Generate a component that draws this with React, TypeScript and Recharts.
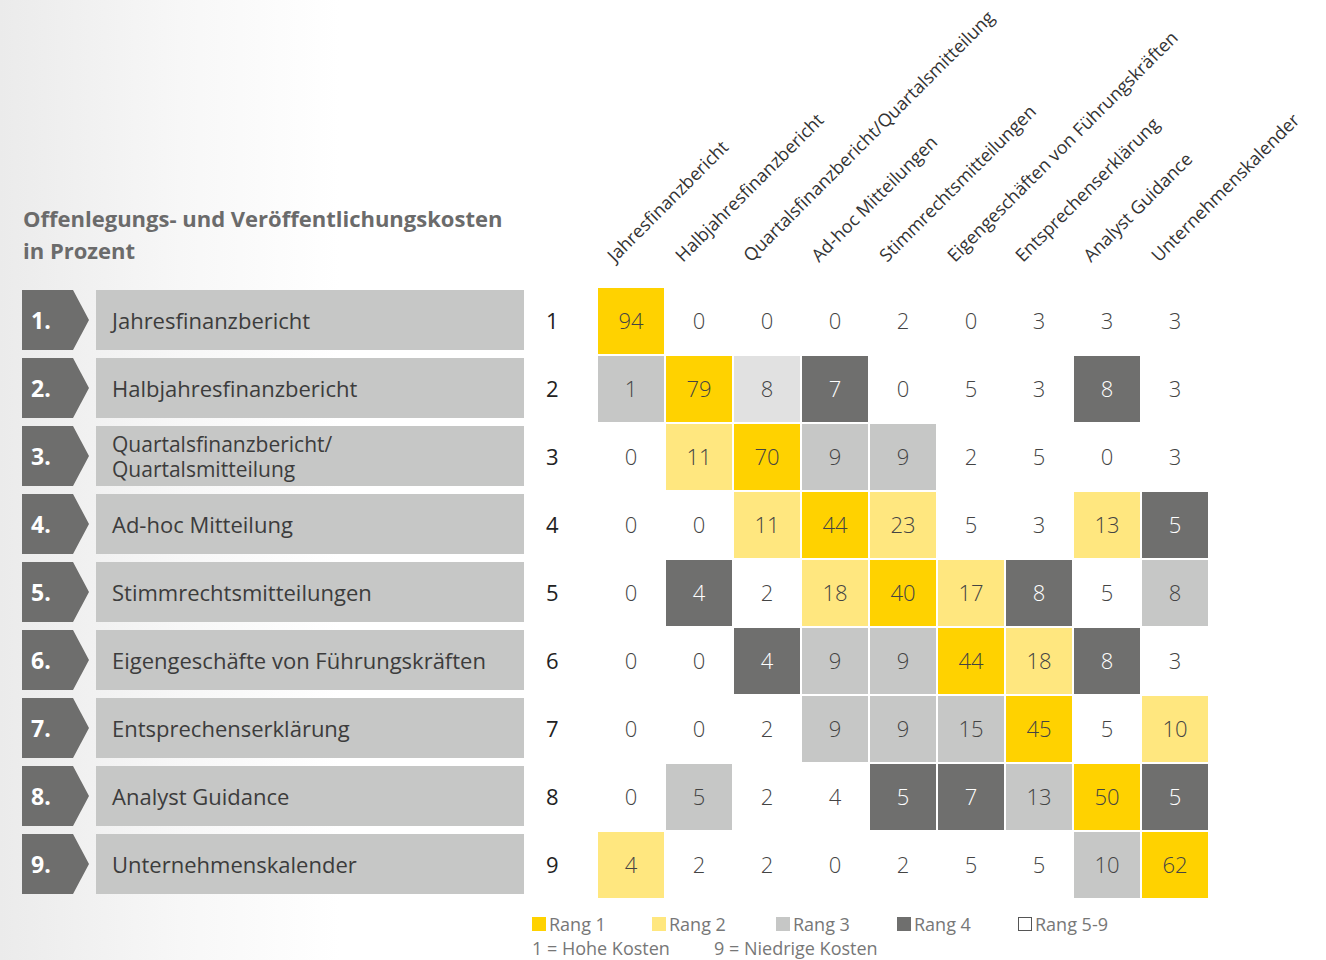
import { ScatterChart, Scatter, XAxis, YAxis } from 'recharts'

// Offenlegungs- und Veröffentlichungskosten – Rangmatrix
const rowLabels = [
  ['Jahresfinanzbericht'],
  ['Halbjahresfinanzbericht'],
  ['Quartalsfinanzbericht/', 'Quartalsmitteilung'],
  ['Ad-hoc Mitteilung'],
  ['Stimmrechtsmitteilungen'],
  ['Eigengeschäfte von Führungskräften'],
  ['Entsprechenserklärung'],
  ['Analyst Guidance'],
  ['Unternehmenskalender'],
]

const columnLabels = [
  'Jahresfinanzbericht',
  'Halbjahresfinanzbericht',
  'Quartalsfinanzbericht/Quartalsmitteilung',
  'Ad-hoc Mitteilungen',
  'Stimmrechtsmitteilungen',
  'Eigengeschäften von Führungskräften',
  'Entsprechenserklärung',
  'Analyst Guidance',
  'Unternehmenskalender',
]

// values per row (rank 1..9), columns = reporting type
const cellValues = [
  [94, 0, 0, 0, 2, 0, 3, 3, 3],
  [1, 79, 8, 7, 0, 5, 3, 8, 3],
  [0, 11, 70, 9, 9, 2, 5, 0, 3],
  [0, 0, 11, 44, 23, 5, 3, 13, 5],
  [0, 4, 2, 18, 40, 17, 8, 5, 8],
  [0, 0, 4, 9, 9, 44, 18, 8, 3],
  [0, 0, 2, 9, 9, 15, 45, 5, 10],
  [0, 5, 2, 4, 5, 7, 13, 50, 5],
  [4, 2, 2, 0, 2, 5, 5, 10, 62],
]

// colour class of each cell: 1 = Rang 1, 2 = Rang 2, 3 = Rang 3, 4 = Rang 4, 5 = hell, 0 = Rang 5-9
const cellRanks = [
  [1, 0, 0, 0, 0, 0, 0, 0, 0],
  [3, 1, 5, 4, 0, 0, 0, 4, 0],
  [0, 2, 1, 3, 3, 0, 0, 0, 0],
  [0, 0, 2, 1, 2, 0, 0, 2, 4],
  [0, 4, 0, 2, 1, 2, 4, 0, 3],
  [0, 0, 4, 3, 3, 1, 2, 4, 0],
  [0, 0, 0, 3, 3, 3, 1, 0, 2],
  [0, 3, 0, 0, 4, 4, 3, 1, 4],
  [2, 0, 0, 0, 0, 0, 0, 3, 1],
]

const legendItems = ['Rang 1', 'Rang 2', 'Rang 3', 'Rang 4', 'Rang 5-9']
const legendNotes = ['1 = Hohe Kosten', '9 = Niedrige Kosten']

const rankColors: Record<number, string> = {
  1: '#ffd200',
  2: '#ffe77f',
  3: '#c6c7c6',
  4: '#6f6f6e',
  5: '#e1e1e1',
}

const FONT = '"Open Sans", "Noto Sans", sans-serif'
const CELL = 68

const cells = cellValues.flatMap((row, r) =>
  row.map((value, c) => ({ x: c + 1, y: r + 1, value, rank: cellRanks[r][c] }))
)

const ticks = [1, 2, 3, 4, 5, 6, 7, 8, 9]

function CellShape(props: any) {
  const { cx, cy, payload } = props
  const fill = rankColors[payload.rank]
  const s = CELL - 2
  return (
    <g>
      {fill && <rect x={cx - s / 2} y={cy - s / 2} width={s} height={s} fill={fill} />}
      <text
        x={cx}
        y={cy + 8}
        textAnchor="middle"
        fontFamily={FONT}
        fontSize={22}
        fontWeight={300}
        fill={payload.rank === 4 ? '#ffffff' : '#444'}
      >
        {payload.value}
      </text>
    </g>
  )
}

function ColumnTick(props: any) {
  const { x, payload } = props
  const label = columnLabels[payload.value - 1]
  const bx = x - 16
  const by = 263
  return (
    <text
      x={bx}
      y={by}
      transform={`rotate(-45 ${bx} ${by})`}
      textAnchor="start"
      fontFamily={FONT}
      fontSize={18}
      fill="#333"
    >
      {label}
    </text>
  )
}

function RowTick(props: any) {
  const { y, payload } = props
  const i = payload.value - 1
  const lines = rowLabels[i]
  const top = y - 31
  const h = 60
  return (
    <g>
      <polygon
        points={`22,${top} 73,${top} 89,${top + h / 2} 73,${top + h} 22,${top + h}`}
        fill="#6e6e6d"
      />
      <text x={31} y={y + 8} fontFamily={FONT} fontSize={23} fontWeight={700} fill="#fff">
        {payload.value}.
      </text>
      <rect x={96} y={top} width={428} height={h} fill="#c6c7c6" />
      {lines.length === 1 ? (
        <text x={112} y={y + 8} fontFamily={FONT} fontSize={22} fill="#3c3c3c">
          {lines[0]}
        </text>
      ) : (
        lines.map((t, k) => (
          <text key={k} x={112} y={y - 5 + k * 25} fontFamily={FONT} fontSize={21} fill="#3c3c3c">
            {t}
          </text>
        ))
      )}
      <text x={546} y={y + 8} fontFamily={FONT} fontSize={22} fill="#222">
        {payload.value}
      </text>
    </g>
  )
}

export default function App() {
  return (
    <div
      style={{
        position: 'absolute',
        left: 0,
        top: 0,
        width: 1326,
        height: 960,
        background: 'linear-gradient(to right, #ebebeb 0px, #f7f7f7 180px, #ffffff 340px)',
        fontFamily: FONT,
        overflow: 'hidden',
      }}
    >
      <div
        style={{
          position: 'absolute',
          left: 23,
          top: 202,
          fontSize: 22,
          fontWeight: 700,
          lineHeight: '32px',
          color: '#6b6b6b',
        }}
      >
        Offenlegungs- und Veröffentlichungskosten
        <br />
        in Prozent
      </div>
      <ScatterChart
        width={1326}
        height={960}
        margin={{ top: 0, right: 117, bottom: 61, left: 0 }}
        style={{ position: 'absolute', left: 0, top: 0 }}
      >
        <XAxis
          type="number"
          dataKey="x"
          domain={[0.5, 9.5]}
          ticks={ticks}
          orientation="top"
          height={287}
          axisLine={false}
          tickLine={false}
          tick={<ColumnTick />}
          interval={0}
        />
        <YAxis
          type="number"
          dataKey="y"
          domain={[0.5, 9.5]}
          ticks={ticks}
          reversed
          width={597}
          axisLine={false}
          tickLine={false}
          tick={<RowTick />}
          interval={0}
        />
        <Scatter data={cells} shape={<CellShape />} isAnimationActive={false} />
      </ScatterChart>
      <div style={{ position: 'absolute', left: 532, top: 912, fontSize: 18, color: '#777', lineHeight: '24px' }}>
        <div style={{ display: 'flex' }}>
          {legendItems.map((t, i) => {
            const rank = i < 4 ? i + 1 : 0
            return (
              <div key={t} style={{ display: 'flex', alignItems: 'center', width: i === 0 ? 120 : i === 1 ? 124 : 121 }}>
                <span
                  style={{
                    display: 'inline-block',
                    width: 14,
                    height: 14,
                    marginRight: 3,
                    boxSizing: 'border-box',
                    background: rank ? rankColors[rank] : '#fff',
                    border: rank ? 'none' : '1px solid #555',
                  }}
                />
                {t}
              </div>
            )
          })}
        </div>
        <div style={{ display: 'flex' }}>
          <span style={{ width: 182 }}>{legendNotes[0]}</span>
          <span>{legendNotes[1]}</span>
        </div>
      </div>
    </div>
  )
}
